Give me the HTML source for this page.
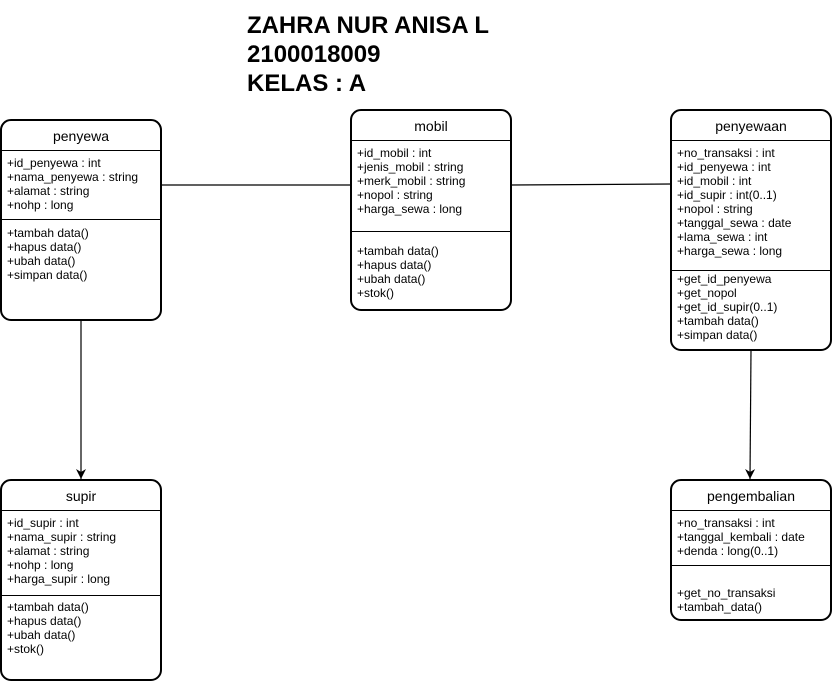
<!DOCTYPE html>
<html><head><style>
html,body{margin:0;padding:0;background:#fff;width:835px;height:682px;overflow:hidden}
svg text{font-family:"Liberation Sans",Arial,sans-serif}
</style></head><body>
<svg width="835" height="682" xmlns="http://www.w3.org/2000/svg">
<defs><marker id="ar" markerWidth="12" markerHeight="12" refX="10" refY="5" orient="auto" markerUnits="userSpaceOnUse"><path d="M0,0 L10,5 L0,10 L3,5 Z" fill="#000"/></marker></defs>
<g font-weight="bold" font-size="24" fill="#000">
<text x="247" y="33" textLength="242" lengthAdjust="spacingAndGlyphs">ZAHRA NUR ANISA L</text>
<text x="247" y="62">2100018009</text>
<text x="247" y="91">KELAS : A</text>
</g>
<g stroke="#000" stroke-width="1.2" fill="none">
<line x1="161" y1="185" x2="351" y2="185"/>
<line x1="511" y1="185" x2="671" y2="184"/>
<line x1="81" y1="320" x2="81" y2="479" marker-end="url(#ar)"/>
<line x1="751" y1="350" x2="750" y2="479" marker-end="url(#ar)"/>
</g>
<g stroke="#000" stroke-width="2" fill="#fff">
<rect x="1" y="120" width="160" height="200" rx="10"/>
<rect x="351" y="110" width="160" height="200" rx="10"/>
<rect x="671" y="110" width="160" height="240" rx="10"/>
<rect x="1" y="480" width="160" height="200" rx="10"/>
<rect x="671" y="480" width="160" height="140" rx="10"/>
</g>
<g stroke="#000" stroke-width="1">
<line x1="1" y1="150.5" x2="161" y2="150.5"/><line x1="1" y1="219.5" x2="161" y2="219.5"/>
<line x1="351" y1="140.5" x2="511" y2="140.5"/><line x1="351" y1="231.5" x2="511" y2="231.5"/>
<line x1="671" y1="140.5" x2="831" y2="140.5"/><line x1="671" y1="270.5" x2="831" y2="270.5"/>
<line x1="1" y1="510.5" x2="161" y2="510.5"/><line x1="1" y1="595.5" x2="161" y2="595.5"/>
<line x1="671" y1="510.5" x2="831" y2="510.5"/><line x1="671" y1="565.5" x2="831" y2="565.5"/>
</g>
<g font-size="14" text-anchor="middle" fill="#000">
<text x="81" y="141">penyewa</text>
<text x="431" y="131">mobil</text>
<text x="751" y="131">penyewaan</text>
<text x="81" y="501">supir</text>
<text x="751" y="501">pengembalian</text>
</g>
<g font-size="12" fill="#000">
<text x="7" y="167">+id_penyewa : int</text>
<text x="7" y="181">+nama_penyewa : string</text>
<text x="7" y="195">+alamat : string</text>
<text x="7" y="209">+nohp : long</text>
<text x="7" y="237">+tambah data()</text>
<text x="7" y="251">+hapus data()</text>
<text x="7" y="265">+ubah data()</text>
<text x="7" y="279">+simpan data()</text>

<text x="357" y="157">+id_mobil : int</text>
<text x="357" y="171">+jenis_mobil : string</text>
<text x="357" y="185">+merk_mobil : string</text>
<text x="357" y="199">+nopol : string</text>
<text x="357" y="213">+harga_sewa : long</text>
<text x="357" y="255">+tambah data()</text>
<text x="357" y="269">+hapus data()</text>
<text x="357" y="283">+ubah data()</text>
<text x="357" y="297">+stok()</text>

<text x="677" y="157">+no_transaksi : int</text>
<text x="677" y="171">+id_penyewa : int</text>
<text x="677" y="185">+id_mobil : int</text>
<text x="677" y="199">+id_supir : int(0..1)</text>
<text x="677" y="213">+nopol : string</text>
<text x="677" y="227">+tanggal_sewa : date</text>
<text x="677" y="241">+lama_sewa : int</text>
<text x="677" y="255">+harga_sewa : long</text>
<text x="677" y="283">+get_id_penyewa</text>
<text x="677" y="297">+get_nopol</text>
<text x="677" y="311">+get_id_supir(0..1)</text>
<text x="677" y="325">+tambah data()</text>
<text x="677" y="339">+simpan data()</text>

<text x="7" y="527">+id_supir : int</text>
<text x="7" y="541">+nama_supir : string</text>
<text x="7" y="555">+alamat : string</text>
<text x="7" y="569">+nohp : long</text>
<text x="7" y="583">+harga_supir : long</text>
<text x="7" y="611">+tambah data()</text>
<text x="7" y="625">+hapus data()</text>
<text x="7" y="639">+ubah data()</text>
<text x="7" y="653">+stok()</text>

<text x="677" y="527">+no_transaksi : int</text>
<text x="677" y="541">+tanggal_kembali : date</text>
<text x="677" y="555">+denda : long(0..1)</text>
<text x="677" y="597">+get_no_transaksi</text>
<text x="677" y="611">+tambah_data()</text>
</g>
</svg>
</body></html>
